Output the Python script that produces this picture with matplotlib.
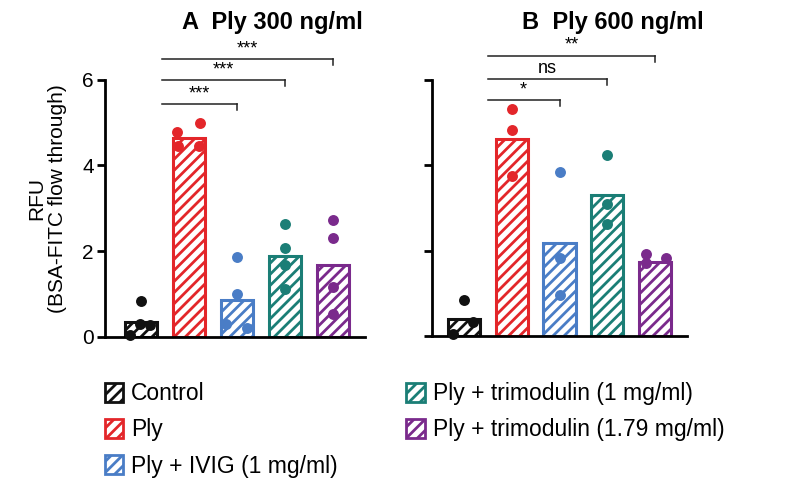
import matplotlib
matplotlib.use("Agg")
import matplotlib.pyplot as plt
from matplotlib.patches import Patch

plt.rcParams['font.family'] = ['Liberation Sans', 'DejaVu Sans']
plt.rcParams['hatch.linewidth'] = 2.0

groups = ["Control", "Ply", "Ply + IVIG (1 mg/ml)",
          "Ply + trimodulin (1 mg/ml)", "Ply + trimodulin (1.79 mg/ml)"]
colors = ["#111111", "#E3262A", "#4A7DC6", "#1B7E76", "#7A2A8C"]

# panel A: Ply 300 ng/ml
bars_a = [0.36, 4.65, 0.86, 1.88, 1.67]
points_a = [
    [0.84, 0.30, 0.28, 0.05],
    [4.78, 4.98, 4.46, 4.46],
    [1.86, 1.00, 0.30, 0.22],
    [2.64, 2.08, 1.68, 1.12],
    [2.72, 2.30, 1.16, 0.54],
]
# horizontal spread of overlapping dots (fraction of a bar slot)
spread_a = [
    [0, -0.02, 0.2, -0.22],
    [-0.24, 0.24, -0.22, 0.22],
    [0, 0, -0.22, 0.2],
    [0, 0, 0, 0],
    [0, 0, 0, 0],
]
sig_a = [(2, 5.44, "***"), (3, 6.0, "***"), (4, 6.49, "***")]

# panel B: Ply 600 ng/ml
bars_b = [0.40, 4.60, 2.17, 3.30, 1.73]
points_b = [
    [0.84, 0.32, 0.05],
    [5.31, 4.82, 3.75],
    [3.84, 1.82, 0.96],
    [4.24, 3.08, 2.62],
    [1.92, 1.82, 1.72],
]
spread_b = [
    [0, 0.2, -0.22],
    [0, 0, 0],
    [0, 0, 0],
    [0, 0, 0],
    [-0.2, 0.22, -0.2],
]
sig_b = [(2, 5.53, "*"), (3, 6.01, "ns"), (4, 6.56, "**")]


def draw_panel(ax, bars, points, spread, sigs, sig_start, xmin, show_labels):
    for i in range(len(bars)):
        ax.bar(i, bars[i], width=0.67, facecolor="white", edgecolor=colors[i],
               hatch="///", linewidth=2.2, zorder=2)
        xs = [i + dx for dx in spread[i]]
        ax.scatter(xs, points[i], s=62, color=colors[i],
                   zorder=3, clip_on=False, linewidths=0)
    for end, y, label in sigs:
        ax.plot([sig_start, end], [y, y], color="#222222", lw=1.1, clip_on=False)
        ax.plot([end, end], [y, y - 0.14], color="#222222", lw=1.1, clip_on=False)
        ax.text((sig_start + end) / 2, y + 0.04, label, ha="center", va="bottom",
                fontsize=13, clip_on=False)
    ax.set_xlim(xmin, 4.66)
    ax.set_ylim(0, 7)
    ax.spines["top"].set_visible(False)
    ax.spines["right"].set_visible(False)
    ax.spines["left"].set_bounds(0, 6)
    ax.spines["left"].set_linewidth(2.0)
    ax.spines["bottom"].set_linewidth(2.0)
    ax.set_xticks([])
    ax.set_yticks([0, 2, 4, 6])
    ax.tick_params(axis="y", length=6, width=2.0, labelsize=15, pad=2)
    if not show_labels:
        ax.set_yticklabels([])


fig = plt.figure(figsize=(8, 4.79), dpi=100)
ax_a = fig.add_axes([0.131, 0.2965, 0.325, 0.6265])
ax_b = fig.add_axes([0.5396, 0.2985, 0.319, 0.6245])

draw_panel(ax_a, bars_a, points_a, spread_a, sig_a, 0.43, -0.75, True)
draw_panel(ax_b, bars_b, points_b, spread_b, sig_b, 0.5, -0.67, False)

ax_a.set_ylabel("RFU\n(BSA-FITC flow through)", fontsize=15, linespacing=1.1)
ax_a.yaxis.set_label_coords(-0.145, 0.46)

fig.text(0.227, 0.954, "A  Ply 300 ng/ml", fontsize=17, fontweight="bold",
         ha="left", va="center")
fig.text(0.652, 0.954, "B  Ply 600 ng/ml", fontsize=17, fontweight="bold",
         ha="left", va="center")

handles = [Patch(facecolor="white", edgecolor=c, hatch="///", linewidth=2.0)
           for c in colors]
fig.legend(handles, groups, loc="upper left", bbox_to_anchor=(0.1165, 0.226),
           ncol=2, frameon=False, fontsize=16.5, handlelength=0.8,
           handleheight=0.9, handletextpad=0.35, labelspacing=0.58,
           columnspacing=3.0, borderpad=0)

fig.savefig("out.png", dpi=100)
